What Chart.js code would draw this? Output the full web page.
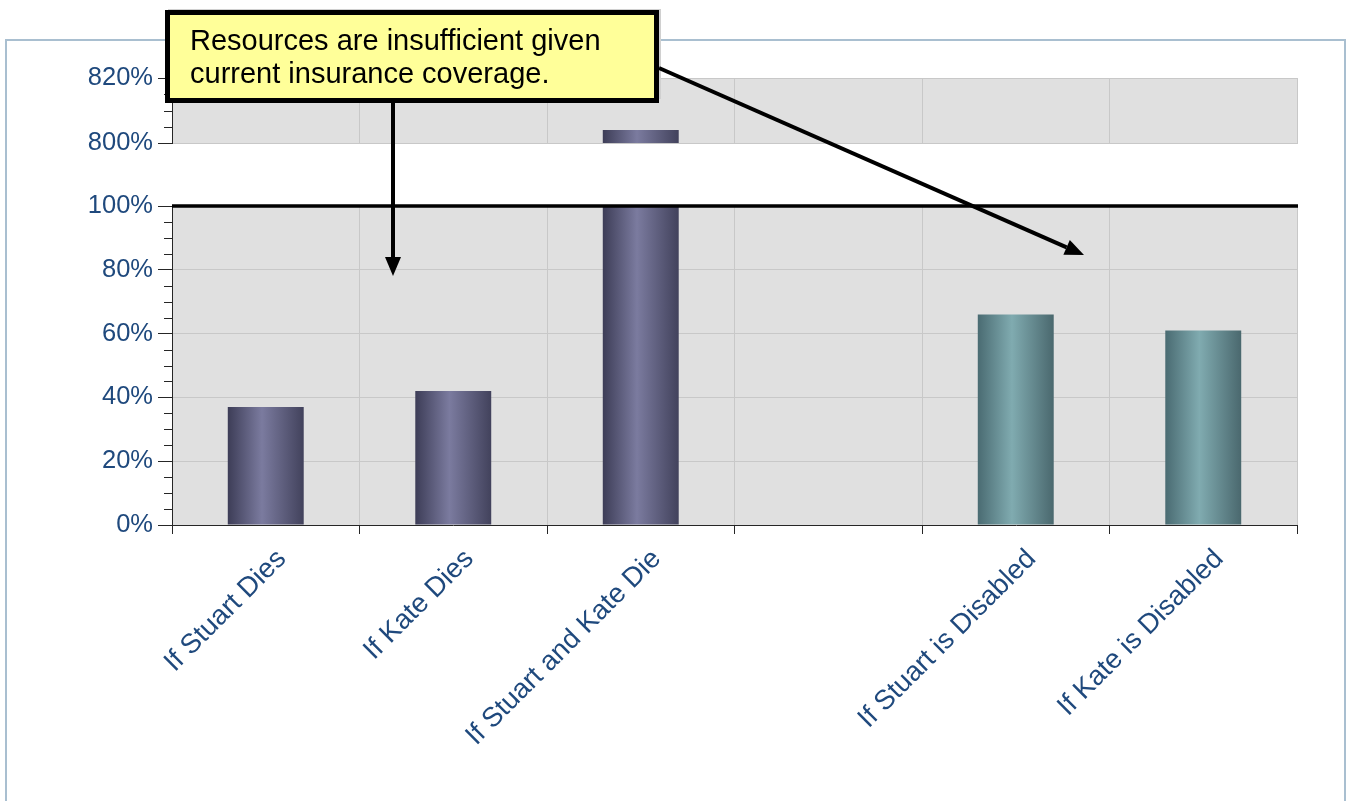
<!DOCTYPE html>
<html>
<head>
<meta charset="utf-8">
<script src="https://cdn.jsdelivr.net/npm/chart.js@4.4.1/dist/chart.umd.min.js"></script>
<style>
  html, body { margin: 0; padding: 0; background: #ffffff; }
  #wrap { position: relative; width: 1351px; height: 801px; }
</style>
</head>
<body>
<div id="wrap"><canvas id="c"></canvas></div>
<script>
// Scenario categories (the empty slot separates death and disability cases)
const categories = ['If Stuart Dies', 'If Kate Dies', 'If Stuart and Kate Die', '', 'If Stuart is Disabled', 'If Kate is Disabled'];
// Resources needed as a share of available coverage (%)
const coverageRatio = [37, 42, 804, null, 66, 61];
const scenarioKind = ['death', 'death', 'death', null, 'disability', 'disability'];

// Broken value axis: a lower band and an upper band
const lowerRange = [0, 100];
const upperRange = [800, 820];
const lowerTicks = [0, 20, 40, 60, 80, 100];
const upperTicks = [800, 820];
const minorStep = 5;
const referenceLevel = 100;

const calloutLines = ['Resources are insufficient given', 'current insurance coverage.'];

const FONT = "'Liberation Sans', Arial, Helvetica, sans-serif";
const TEXT = '#1f497d';
const GRID = '#c8c8c8';
const AXIS = '#262626';
const BAND = '#e0e0e0';
const BAR_PCT = 0.405;

const shades = {
  death: [[0, '#3d3d57'], [0.45, '#7b7b9f'], [1, '#42425c']],
  disability: [[0, '#4a6b72'], [0.45, '#80abb0'], [1, '#4a686e']]
};

// Horizontal cylinder-like shading for each bar
function barFill(c) {
  const stops = shades[scenarioKind[c.dataIndex]] || shades.death;
  const xs = c.chart.scales && c.chart.scales.x;
  if (c.type !== 'data' || !xs || !xs.width) return stops[1][1];
  const cx = xs.getPixelForValue(c.dataIndex);
  const half = xs.width / categories.length * BAR_PCT / 2;
  const g = c.chart.ctx.createLinearGradient(cx - half, 0, cx + half, 0);
  stops.forEach(([o, col]) => g.addColorStop(o, col));
  return g;
}

const upperData = coverageRatio.map(v => (v != null && v > upperRange[0]) ? v : null);

function valueAxis(range, ticks, weight, stackWeight) {
  return {
    type: 'linear',
    position: 'left',
    stack: 'ratio',
    stackWeight: stackWeight,
    weight: weight,
    min: range[0],
    max: range[1],
    afterBuildTicks: s => { s.ticks = ticks.map(v => ({ value: v })); },
    afterFit: s => { s.width = 172; },
    grid: {
      color: c => (c.tick && (c.tick.value === 0 || c.tick.value === referenceLevel)) ? 'rgba(0,0,0,0)' : GRID,
      tickColor: AXIS,
      tickLength: 14,
      lineWidth: 1
    },
    border: { color: AXIS, width: 1 },
    ticks: {
      color: TEXT,
      font: { family: FONT, size: 25.5 },
      padding: 5,
      callback: v => v + '%'
    }
  };
}

const decorations = {
  id: 'decorations',
  beforeDraw(chart) {
    const { ctx, chartArea: a, scales } = chart;
    ctx.save();
    ctx.strokeStyle = '#a9bfd0';
    ctx.lineWidth = 2;
    ctx.strokeRect(6, 40, 1339, 900);
    ctx.fillStyle = BAND;
    ['yTop', 'y'].forEach(id => {
      const s = scales[id];
      ctx.fillRect(a.left, s.top, a.right - a.left, s.bottom - s.top);
    });
    ctx.restore();
  },
  beforeDatasetsDraw(chart) {
    // blank the break between the two bands
    const { ctx, chartArea: a, scales } = chart;
    ctx.save();
    ctx.fillStyle = '#ffffff';
    ctx.fillRect(a.left - 1, scales.yTop.bottom + 1, a.right - a.left + 2, scales.y.top - scales.yTop.bottom - 1);
    ctx.restore();
  },
  beforeDatasetDraw(chart, args) {
    const { ctx, chartArea: a } = chart;
    const s = chart.scales[args.meta.yAxisID];
    ctx.save();
    ctx.beginPath();
    ctx.rect(a.left, s.top, a.right - a.left, s.bottom - s.top);
    ctx.clip();
  },
  afterDatasetDraw(chart) {
    chart.ctx.restore();
  },
  afterDraw(chart) {
    const { ctx, chartArea: a, scales } = chart;
    ctx.save();

    // minor ticks on both value bands
    ctx.strokeStyle = AXIS;
    ctx.lineWidth = 1;
    ['y', 'yTop'].forEach(id => {
      const s = scales[id];
      for (let v = s.min; v <= s.max; v += minorStep) {
        if (v % 20 === 0) continue;
        const py = Math.round(s.getPixelForValue(v)) + 0.5;
        ctx.beginPath();
        ctx.moveTo(s.right - 8, py);
        ctx.lineTo(s.right, py);
        ctx.stroke();
      }
    });

    // 100% coverage line
    const ry = scales.y.getPixelForValue(referenceLevel);
    ctx.strokeStyle = '#000000';
    ctx.lineWidth = 3.5;
    ctx.beginPath();
    ctx.moveTo(a.left, ry);
    ctx.lineTo(a.right + 1, ry);
    ctx.stroke();

    // callout box
    ctx.fillStyle = '#d0d0d0';
    ctx.fillRect(168, 9, 493, 90);
    ctx.fillStyle = '#ffff99';
    ctx.fillRect(167.5, 12.5, 489, 88);
    ctx.strokeStyle = '#000000';
    ctx.lineWidth = 5;
    ctx.strokeRect(167.5, 12.5, 489, 88);
    ctx.fillStyle = '#000000';
    ctx.font = '29px ' + FONT;
    ctx.textBaseline = 'alphabetic';
    ctx.textAlign = 'left';
    ctx.fillText(calloutLines[0], 190, 50);
    ctx.fillText(calloutLines[1], 190, 83);

    // pointer arrows
    function arrow(x0, y0, x1, y1) {
      const ang = Math.atan2(y1 - y0, x1 - x0), head = 19, hw = 8;
      const bx = x1 - head * Math.cos(ang), by = y1 - head * Math.sin(ang);
      ctx.lineWidth = 4;
      ctx.beginPath();
      ctx.moveTo(x0, y0);
      ctx.lineTo(bx, by);
      ctx.stroke();
      ctx.beginPath();
      ctx.moveTo(x1, y1);
      ctx.lineTo(bx + hw * Math.sin(ang), by - hw * Math.cos(ang));
      ctx.lineTo(bx - hw * Math.sin(ang), by + hw * Math.cos(ang));
      ctx.closePath();
      ctx.fill();
    }
    arrow(393, 103, 393, 276);
    arrow(659, 68, 1084, 255);

    ctx.restore();
  }
};

const barStyle = {
  backgroundColor: barFill,
  borderWidth: 0,
  grouped: false,
  categoryPercentage: 1,
  barPercentage: BAR_PCT
};

new Chart(document.getElementById('c'), {
  type: 'bar',
  data: {
    labels: categories,
    datasets: [
      Object.assign({ label: 'Coverage need', data: coverageRatio, yAxisID: 'y' }, barStyle),
      Object.assign({ label: 'Coverage need (upper band)', data: upperData, yAxisID: 'yTop' }, barStyle)
    ]
  },
  options: {
    responsive: true,
    maintainAspectRatio: false,
    animation: false,
    layout: { padding: { top: 78, right: 54, left: 0, bottom: 0 } },
    plugins: { legend: { display: false }, tooltip: { enabled: false } },
    scales: {
      x: {
        type: 'category',
        offset: true,
        grid: { offset: true, color: GRID, tickColor: AXIS, tickLength: 9, lineWidth: 1 },
        border: { color: AXIS, width: 1 },
        ticks: {
          color: TEXT,
          font: { family: FONT, size: 27.5 },
          minRotation: 45,
          maxRotation: 45,
          autoSkip: false,
          padding: 9,
          labelOffset: 16
        },
        afterFit: s => { s.height = 276; }
      },
      y: valueAxis(lowerRange, lowerTicks, 1, 319),
      yGap: {
        type: 'linear',
        position: 'left',
        stack: 'ratio',
        stackWeight: 63,
        weight: 2,
        min: 0,
        max: 1,
        grid: { display: false },
        border: { display: false },
        ticks: { display: false },
        afterFit: s => { s.width = 172; }
      },
      yTop: valueAxis(upperRange, upperTicks, 3, 65)
    }
  },
  plugins: [decorations]
});
</script>
</body>
</html>
